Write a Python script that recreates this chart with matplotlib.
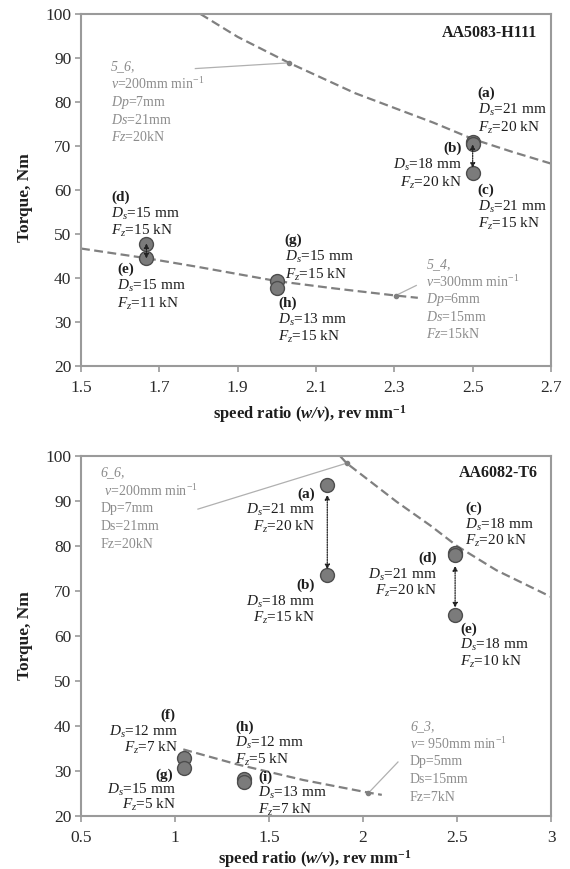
import matplotlib
matplotlib.use("Agg")
import matplotlib.pyplot as plt

plt.rcParams["font.family"] = ["Liberation Serif", "DejaVu Serif"]
plt.rcParams["mathtext.fontset"] = "custom"
plt.rcParams["mathtext.rm"] = "Liberation Serif"
plt.rcParams["mathtext.it"] = "Liberation Serif:italic"
plt.rcParams["mathtext.bf"] = "Liberation Serif:bold"
plt.rcParams["mathtext.bfit"] = "Liberation Serif:italic:bold"

# ---------------- AA5083-H111 ----------------
top_labels = ["a", "b", "c", "d", "e", "g", "h"]
top_ratio = [2.5, 2.5, 2.5, 1.667, 1.667, 2.0, 2.0]
top_torque = [71.0, 70.5, 63.9, 47.7, 44.6, 39.4, 37.7]
top_ds = [21, 18, 21, 15, 15, 15, 13]
top_fz = [20, 20, 15, 15, 11, 15, 15]

# dashed trend lines (5_6 and 5_4)
top_c56_x = [1.805, 1.9, 2.031, 2.2, 2.4, 2.5, 2.6, 2.7]
top_c56_y = [100.0, 94.8, 88.9, 82.0, 75.3, 71.6, 68.7, 66.0]
top_c54_x = [1.5, 1.667, 1.8, 2.0, 2.15, 2.305, 2.36]
top_c54_y = [46.7, 44.5, 42.5, 39.3, 37.6, 36.0, 35.5]

# ---------------- AA6082-T6 ----------------
bot_labels = ["a", "b", "c", "d", "e", "f", "g", "h", "i"]
bot_ratio = [1.81, 1.81, 2.49, 2.49, 2.49, 1.048, 1.048, 1.365, 1.365]
bot_torque = [93.5, 73.6, 78.5, 78.0, 64.7, 33.0, 30.7, 28.2, 27.6]
bot_ds = [21, 18, 18, 21, 18, 12, 15, 12, 13]
bot_fz = [20, 15, 20, 20, 10, 7, 5, 5, 7]

bot_c66_x = [1.878, 1.913, 2.18, 2.36, 2.5, 2.71, 3.0]
bot_c66_y = [100.0, 98.4, 89.8, 84.5, 80.0, 74.6, 68.7]
bot_c63_x = [1.044, 1.328, 1.682, 2.028, 2.1]
bot_c63_y = [34.8, 31.5, 28.0, 25.2, 24.7]

W, H = 570, 869
fig = plt.figure(figsize=(W / 100, H / 100), dpi=100)

SPINE = "#9a9a9a"
TXT = "#1e1e1e"
GRAY = "#8c8c8c"
CURVE = "#808080"
FACE = "#7b7b7b"
EDGE = "#4d4d4d"
LBL = 11          # point annotation size
CALL = 10         # grey call-out size


def make_axes(px_left, px_top, px_right, px_bottom):
    ax = fig.add_axes([px_left / W, 1 - px_bottom / H,
                       (px_right - px_left) / W, (px_bottom - px_top) / H])
    for s in ax.spines.values():
        s.set_color(SPINE)
        s.set_linewidth(1.5)
    ax.tick_params(direction="out", length=4, width=1.2, color=SPINE,
                   labelsize=12.5, labelcolor="#2a2a2a")
    ax.tick_params(axis="x", pad=6)
    ax.tick_params(axis="y", pad=3)
    return ax


def block(ax, x, y, lines, step, ha="left", size=LBL, color=TXT, bold_first=True):
    for i, line in enumerate(lines):
        ax.text(x, y - i * step, line, ha=ha, va="center", fontsize=size,
                color=color,
                fontweight="bold" if (bold_first and i == 0) else "normal")


def point_label(ax, x, y, tag, ds, fz, step, ha="left"):
    block(ax, x, y, [f"({tag})", rf"$D_s$={ds} mm", rf"$F_z$={fz} kN"], step, ha=ha)


def dbl_arrow(ax, x, y0, y1):
    ax.annotate("", xy=(x, y1), xytext=(x, y0),
                arrowprops=dict(arrowstyle="<|-|>", linestyle=(0, (1, 1)),
                                color="#222222", lw=0.9, mutation_scale=7,
                                shrinkA=0, shrinkB=0), zorder=6)


# ---------- top panel ----------
ax1 = make_axes(81, 14, 551, 366)
ax1.set_xlim(1.5, 2.7)
ax1.set_ylim(20, 100)
ax1.set_xticks([1.5, 1.7, 1.9, 2.1, 2.3, 2.5, 2.7])
ax1.set_xticklabels(["1.5", "1.7", "1.9", "2.1", "2.3", "2.5", "2.7"])
ax1.set_yticks(range(20, 101, 10))

ax1.plot(top_c56_x, top_c56_y, ls=(0, (4, 2)), color=CURVE, lw=1.6, zorder=2)
ax1.plot(top_c54_x, top_c54_y, ls=(0, (4, 2)), color=CURVE, lw=1.6, zorder=2)
ax1.plot([top_c56_x[2]], [top_c56_y[2]], "o", ms=3, color=CURVE, zorder=3)
ax1.plot([top_c54_x[5]], [top_c54_y[5]], "o", ms=3, color=CURVE, zorder=3)
ax1.plot([1.792, top_c56_x[2]], [87.6, top_c56_y[2]], color="#b0b0b0", lw=0.9, zorder=2)
ax1.plot([2.356, 2.31], [38.3, 36.3], color="#b0b0b0", lw=0.9, zorder=2)

ax1.plot(top_ratio, top_torque, "o", ms=10, mfc=FACE, mec=EDGE, mew=1, zorder=4)
dbl_arrow(ax1, 2.5, 65.0, 70.4)
dbl_arrow(ax1, 1.667, 44.4, 47.9)

st = 3.9
point_label(ax1, 2.513, 82.0, "a", top_ds[0], top_fz[0], st)
point_label(ax1, 2.472, 69.5, "b", top_ds[1], top_fz[1], st, ha="right")
point_label(ax1, 2.513, 60.0, "c", top_ds[2], top_fz[2], st)
point_label(ax1, 1.577, 58.4, "d", top_ds[3], top_fz[3], st)
point_label(ax1, 1.592, 42.0, "e", top_ds[4], top_fz[4], st)
point_label(ax1, 2.020, 48.6, "g", top_ds[5], top_fz[5], st)
point_label(ax1, 2.003, 34.3, "h", top_ds[6], top_fz[6], st)

ax1.text(2.664, 95.7, "AA5083-H111", ha="right", va="center",
         fontsize=11.5, fontweight="bold", color=TXT)

block(ax1, 1.577, 88.0,
      ["5_6,", r"$v$=200mm min$^{-1}$", r"$Dp$=7mm", r"$Ds$=21mm", r"$Fz$=20kN"],
      4.0, size=CALL, color=GRAY, bold_first=False)
block(ax1, 2.382, 43.0,
      ["5_4,", r"$v$=300mm min$^{-1}$", r"$Dp$=6mm", r"$Ds$=15mm", r"$Fz$=15kN"],
      3.95, size=CALL, color=GRAY, bold_first=False)
for t in ax1.texts:
    if t.get_text() in ("5_6,", "5_4,"):
        t.set_fontstyle("italic")

# ---------- bottom panel ----------
ax2 = make_axes(81, 456, 551, 816)
ax2.set_xlim(0.5, 3.0)
ax2.set_ylim(20, 100)
ax2.set_xticks([0.5, 1, 1.5, 2, 2.5, 3])
ax2.set_xticklabels(["0.5", "1", "1.5", "2", "2.5", "3"])
ax2.set_yticks(range(20, 101, 10))

ax2.plot(bot_c66_x, bot_c66_y, ls=(0, (4, 2)), color=CURVE, lw=1.6, zorder=2)
ax2.plot(bot_c63_x, bot_c63_y, ls=(0, (4, 2)), color=CURVE, lw=1.6, zorder=2)
ax2.plot([bot_c66_x[1]], [bot_c66_y[1]], "o", ms=3, color=CURVE, zorder=3)
ax2.plot([bot_c63_x[3]], [bot_c63_y[3]], "o", ms=3, color=CURVE, zorder=3)
ax2.plot([1.122, bot_c66_x[1]], [88.2, bot_c66_y[1]], color="#b0b0b0", lw=0.9, zorder=2)
ax2.plot([2.186, 2.04], [32.0, 25.6], color="#b0b0b0", lw=0.9, zorder=2)

ax2.plot(bot_ratio, bot_torque, "o", ms=10, mfc=FACE, mec=EDGE, mew=1, zorder=4)
dbl_arrow(ax2, 1.81, 74.8, 91.4)
dbl_arrow(ax2, 2.49, 66.3, 75.6)

sb = 3.65
point_label(ax2, 1.745, 91.6, "a", bot_ds[0], bot_fz[0], sb, ha="right")
point_label(ax2, 1.745, 71.3, "b", bot_ds[1], bot_fz[1], sb, ha="right")
point_label(ax2, 2.543, 88.4, "c", bot_ds[2], bot_fz[2], sb)
point_label(ax2, 2.394, 77.3, "d", bot_ds[3], bot_fz[3], sb, ha="right")
point_label(ax2, 2.516, 61.6, "e", bot_ds[4], bot_fz[4], sb)
ax2.text(0.963, 42.4, "(f)", ha="center", va="center", fontsize=LBL,
         fontweight="bold", color=TXT)
block(ax2, 1.016, 38.7, [rf"$D_s$={bot_ds[5]} mm", rf"$F_z$={bot_fz[5]} kN"],
      sb, ha="right", bold_first=False)
ax2.text(0.989, 29.1, "(g)", ha="right", va="center", fontsize=LBL,
         fontweight="bold", color=TXT)
block(ax2, 1.005, 25.8, [rf"$D_s$={bot_ds[6]} mm", rf"$F_z$={bot_fz[6]} kN"],
      3.4, ha="right", bold_first=False)
point_label(ax2, 1.319, 39.8, "h", bot_ds[7], bot_fz[7], sb)
point_label(ax2, 1.441, 28.7, "i", bot_ds[8], bot_fz[8], sb)

ax2.text(2.931, 96.2, "AA6082-T6", ha="right", va="center",
         fontsize=11.5, fontweight="bold", color=TXT)

block(ax2, 0.606, 96.2,
      ["6_6,", r" $v$=200mm min$^{-1}$", "Dp=7mm", "Ds=21mm", "Fz=20kN"],
      3.95, size=CALL, color=GRAY, bold_first=False)
block(ax2, 2.25, 39.8,
      ["6_3,", r"$v$= 950mm min$^{-1}$", "Dp=5mm", "Ds=15mm", "Fz=7kN"],
      3.9, size=CALL, color=GRAY, bold_first=False)
for t in ax2.texts:
    if t.get_text() in ("6_6,", "6_3,"):
        t.set_fontstyle("italic")

# ---------- axis titles ----------
xlab = r"speed ratio ($\mathbfit{w/v}$), rev mm$^{\mathbf{-1}}$"
for xc, xy, yy in ((310, 414, 198), (315, 859, 636)):
    fig.text(xc / W, 1 - xy / H, xlab, ha="center", va="center",
             fontsize=12, fontweight="bold", color=TXT)
    fig.text(25 / W, 1 - yy / H, "Torque, Nm", ha="center", va="center",
             rotation=90, fontsize=12.5, fontweight="bold", color=TXT)

fig.savefig("out.png", dpi=100, facecolor="white")
